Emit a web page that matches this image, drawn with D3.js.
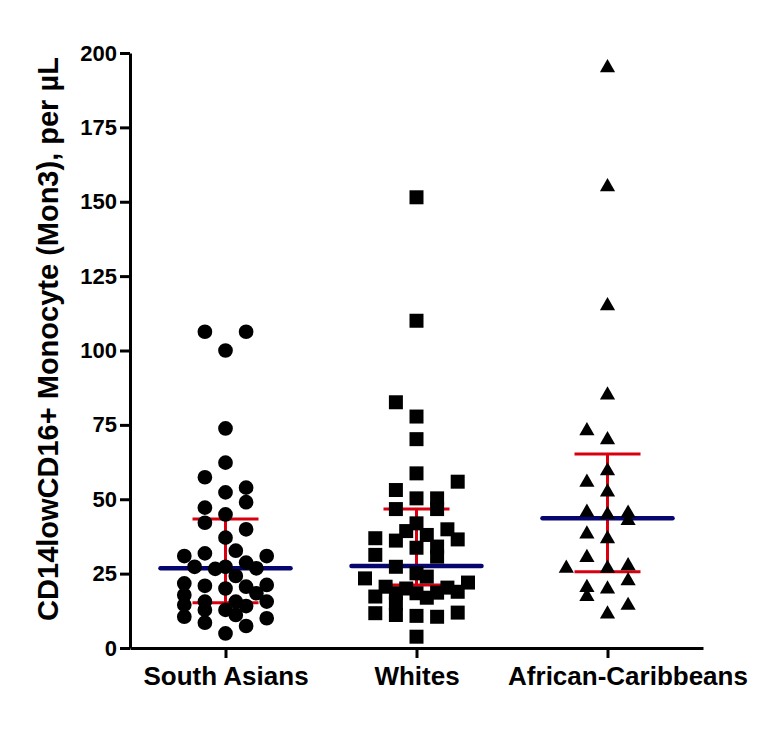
<!DOCTYPE html>
<html>
<head>
<meta charset="utf-8">
<script src="https://cdn.jsdelivr.net/npm/d3@7"></script>
<style>
  body { margin: 0; background: #fff; }
  svg { font-family: "Liberation Sans", Arial, sans-serif; font-weight: bold; }
</style>
</head>
<body>
<svg></svg>
<script>
// groups on the x axis
const groups = ['South Asians', 'Whites', 'African-Caribbeans']

// values per group (per uL)
const southAsians = [106.3, 106.3, 100, 73.8, 62.3, 57.4, 52.3, 53.9, 49, 47.2, 44.9, 42.1, 39.9, 37.1,
  32.7, 30.9, 31.8, 30.9, 28.7, 27.3, 26.6, 27.3, 26.8, 24.2, 21.7, 20.9, 21.2, 20, 20.6, 18.4, 17.8,
  14.5, 15.6, 15.6, 15.6, 14.1, 12.8, 12.8, 11.1, 10.5, 10, 8.5, 7.4, 4.9]
// scatter column of each point (how GraphPad spread them sideways)
const southAsiansCol = [-2, 2, 0, 0, 0, -2, 0, 2, 2, -2, 0, -2, 2, 0,
  1, -4, -2, 4, 2, -3, -1, 0, 3, 1, -4, -2, 4, 0, 2, 3, -4,
  -4, -2, 1, 4, 2, -2, 0, 1, -4, 4, -2, 2, 0]

const whites = [151.5, 110, 82.6, 77.8, 70.2, 58.7, 55.9, 53.1, 50.3, 50.3, 46.7, 46.7, 41.9, 39.3,
  39.9, 38, 36.9, 36.1, 36.5, 33.7, 34.1, 30.7, 31.3, 27.3, 25.1, 23.4, 24, 22, 20.6, 20, 20.3,
  17.3, 18.4, 18.4, 16.9, 18.6, 18.9, 15, 11.7, 11.1, 10.8, 10.5, 11.9, 3.8]
const whitesCol = [0, 0, -2, 0, 0, 0, 4, -2, 0, 2, -2, 2, 0, -1,
  3, 1, -4, -2, 4, 0, 2, 2, -4, -2, 0, -5, 1, 5, -3, -1, 3,
  -4, -2, 0, 1, 2, 4, -2, -4, -2, 0, 2, 4, 0]

const africanCaribbeans = [195, 155, 115, 85, 73, 70, 59.5, 55.7, 52.4, 45.6, 44.8, 45.3,
  42.8, 38.3, 36.7, 30.4, 26.8, 26.8, 27.6, 22.6, 20.3, 19.8, 17.3, 14.3, 11.4]
const africanCaribbeansCol = [0, 0, 0, 0, -2, 0, 0, -2, 0, -2, 0, 2,
  2, -2, 0, -2, -4, 0, 2, 2, -2, 0, -2, 2, 0]

// median and interquartile range per group
const medians = [26.8, 27.6, 43.6]
const lowerQ = [15.2, 21.2, 25.6]
const upperQ = [43.4, 46.7, 65.2]

const yTicks = [0, 25, 50, 75, 100, 125, 150, 175, 200]

const svgWidth = 771
const svgHeight = 746
const plotLeft = 130, plotRight = 703, plotTop = 53, plotBottom = 648

const svg = d3.select('svg').attr('width', svgWidth).attr('height', svgHeight)

const xScale = d3.scalePoint().domain(groups).range([plotLeft, plotRight]).padding(0.5)
const yScale = d3.scaleLinear().domain([0, 200]).range([plotBottom, plotTop])
// one scatter column in pixels
const colScale = d3.scaleLinear().domain([0, 1]).range([0, 10.3])

const lines = svg.append('g')
groups.forEach((g, i) => {
  const cx = xScale(g)
  // red IQR bar
  lines.append('line')
    .attr('x1', cx).attr('x2', cx)
    .attr('y1', yScale(lowerQ[i])).attr('y2', yScale(upperQ[i]))
    .attr('stroke', '#d8000f').attr('stroke-width', 3)
  ;[lowerQ[i], upperQ[i]].forEach(v => {
    lines.append('line')
      .attr('x1', cx - 33).attr('x2', cx + 33)
      .attr('y1', yScale(v)).attr('y2', yScale(v))
      .attr('stroke', '#d8000f').attr('stroke-width', 3)
  })
  // navy median
  lines.append('line')
    .attr('x1', cx - 65).attr('x2', cx + 65)
    .attr('y1', yScale(medians[i])).attr('y2', yScale(medians[i]))
    .attr('stroke', '#06066e').attr('stroke-width', 4.5)
    .attr('stroke-linecap', 'round')
})

const series = [
  { name: groups[0], values: southAsians, cols: southAsiansCol, symbol: d3.symbolCircle, size: 170 },
  { name: groups[1], values: whites, cols: whitesCol, symbol: d3.symbolSquare, size: 196 },
  { name: groups[2], values: africanCaribbeans, cols: africanCaribbeansCol, symbol: d3.symbolTriangle, size: 100 }
]

series.forEach(s => {
  const pts = s.values.map((v, i) => ({ v: v, c: s.cols[i] }))
  svg.append('g').selectAll('path')
    .data(pts)
    .enter()
    .append('path')
    .attr('d', d3.symbol().type(s.symbol).size(s.size))
    .attr('transform', d => 'translate(' + (xScale(s.name) + colScale(d.c)) + ',' + yScale(d.v) + ')')
    .attr('fill', '#000')
})

// axes
const yAxis = d3.axisLeft(yScale).tickValues(yTicks).tickSize(10).tickSizeOuter(0).tickPadding(3)
const gy = svg.append('g')
  .attr('transform', 'translate(' + plotLeft + ',0)')
  .call(yAxis)
gy.selectAll('text').attr('font-size', 22).attr('font-family', '"Liberation Sans", Arial, sans-serif').attr('font-weight', 'bold').attr('fill', '#000')

const xAxis = d3.axisBottom(xScale).tickSize(10).tickSizeOuter(0).tickPadding(9)
const gx = svg.append('g')
  .attr('transform', 'translate(0,' + plotBottom + ')')
  .call(xAxis)
gx.selectAll('text').attr('font-size', 26).attr('font-family', '"Liberation Sans", Arial, sans-serif').attr('font-weight', 'bold').attr('fill', '#000')
// the last label sits a bit right of its tick in the original
gx.selectAll('text').filter(d => d === 'African-Caribbeans').attr('dx', 20)

svg.selectAll('.domain, .tick line').attr('stroke', '#000').attr('stroke-width', 3)

svg.append('text')
  .attr('transform', 'translate(58,339) rotate(-90)')
  .attr('text-anchor', 'middle')
  .attr('font-size', 29)
  .text('CD14lowCD16+ Monocyte (Mon3), per µL')
</script>
</body>
</html>
